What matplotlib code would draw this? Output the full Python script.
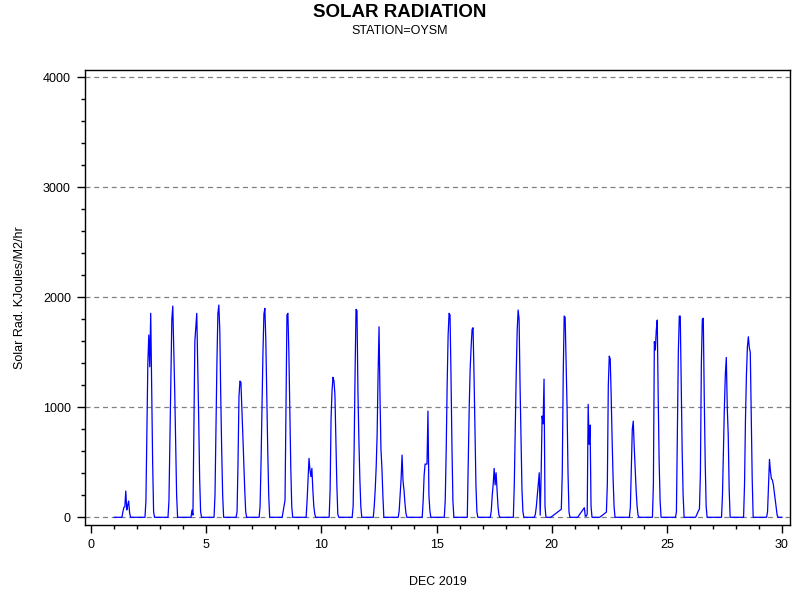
import matplotlib.pyplot as plt
from matplotlib.ticker import MultipleLocator

plt.rcParams['font.family'] = ['Liberation Sans', 'DejaVu Sans']

# hourly solar radiation, hours 0..23 of each day in Dec 2019 (None = missing)
dec01 = [0]*8 + [0, 50, 90, 95, 239, 66, 110, 148, 40, 0] + [0]*6
dec02 = [0]*8 + [0, 150, 800, 1400, 1657, 1369, 1855, 1200, 500, 50] + [0]*6
dec03 = [0]*8 + [0, 150, 700, 1300, 1800, 1921, 1550, 1150, 650, 200] + [0]*6
dec04 = [0]*8 + [0, 66, 20, 800, 1600, 1730, 1855, 1400, 900, 350] + [50] + [0]*5
dec05 = [0]*8 + [0, 200, 800, 1400, 1850, 1930, 1700, 1100, 600, 200] + [0]*6
dec06 = [0]*8 + [50, 500, 1100, 1239, 1230, 1000, 750, 500, 250, 50] + [0]*6
dec07 = [0]*8 + [100, 500, 1000, 1500, 1850, 1900, 1600, 1100, 600, 200] + [0]*6
dec08 = [0]*8 + [50, 100, 155, 1000, 1840, 1855, 1500, 950, 450, 100] + [0]*6
dec09 = [0]*8 + [0, 150, 350, 536, 430, 370, 445, 250, 100, 30] + [0]*6
dec10 = [0]*8 + [0, 250, 900, 1150, 1273, 1240, 1120, 700, 300, 30] + [0]*6
dec11 = [0]*8 + [0, 100, 600, 1300, 1891, 1880, 1150, 700, 350, 100] + [0]*6
dec12 = [0]*7 + [100] + [250, 450, 750, 1300, 1733, 1100, 620, 450, 200, 0] + [0]*6
dec13 = [0]*8 + [0, 60, 200, 350, 566, 330, 250, 130, 40, 0] + [0]*6
dec14 = [0]*8 + [0, 0, 150, 380, 484, 484, 484, 966, 200, 60] + [0]*6
dec15 = [0]*8 + [0, 150, 600, 1200, 1650, 1855, 1840, 1300, 650, 150] + [0]*6
dec16 = [0]*8 + [0, 500, 1000, 1350, 1550, 1710, 1724, 1300, 800, 300] + [50] + [0]*5
dec17 = [0]*8 + [0, 60, 200, 300, 445, 295, 405, 250, 100, 20] + [0]*6
dec18 = [0]*8 + [0, 300, 800, 1300, 1700, 1885, 1800, 1200, 700, 250] + [50] + [0]*5
dec19 = [0]*7 + [30] + [100, 200, 300, 405, 20, 400, 921, 850, 1257, 100] + [0]*6
dec20 = [None]*10 + [73, 400, 1300, 1830, 1820, 1400, 1000, 400] + [50] + [0]*5
dec21 = [0]*4 + [None]*6 + [87, 10, 10, 30, 1027, 663, 839, 100] + [0]*6
dec22 = [0]*3 + [None]*6 + [47, 300, 1200, 1466, 1440, 1100, 700, 350, 100] + [0]*6
dec23 = [0]*8 + [0, 0, 95, 450, 800, 875, 640, 450, 250, 100] + [20] + [0]*5
dec24 = [0]*8 + [0, 0, 300, 1597, 1521, 1700, 1794, 1100, 500, 150] + [0]*6
dec25 = [0]*8 + [0, 0, 50, 800, 1500, 1830, 1830, 1200, 600, 200] + [0]*6
dec26 = [0]*7 + [20] + [40, 60, 75, 400, 1400, 1800, 1810, 1100, 500, 100] + [0]*6
dec27 = [0]*8 + [0, 0, 200, 600, 1000, 1300, 1454, 1000, 750, 250] + [0]*6
dec28 = [0]*8 + [0, 300, 900, 1300, 1550, 1642, 1540, 1500, 900, 350] + [0]*6
dec29 = [0]*8 + [0, 50, 300, 527, 420, 350, 340, 300, 230, 160] + [90, 20] + [0]*4
dec30 = [0]

daily = [dec01, dec02, dec03, dec04, dec05, dec06, dec07, dec08, dec09, dec10,
         dec11, dec12, dec13, dec14, dec15, dec16, dec17, dec18, dec19, dec20,
         dec21, dec22, dec23, dec24, dec25, dec26, dec27, dec28, dec29, dec30]

t, rad = [], []
for day, vals in enumerate(daily, start=1):
    for hour, v in enumerate(vals):
        if v is not None:
            t.append(day + hour / 24)
            rad.append(v)

fig = plt.figure(figsize=(8, 6), dpi=100)
ax = fig.add_axes([0.106, 0.125, 0.8815, 0.758])

ax.plot(t, rad, color='#0000ff', linewidth=0.9)

ax.set_xlim(-0.28, 30.35)
ax.set_ylim(-70, 4066)
ax.xaxis.set_major_locator(MultipleLocator(5))
ax.xaxis.set_minor_locator(MultipleLocator(1))
ax.yaxis.set_major_locator(MultipleLocator(1000))
ax.yaxis.set_minor_locator(MultipleLocator(200))
ax.tick_params(which='major', direction='out', length=6, width=1, labelsize=9, pad=4)
ax.tick_params(which='minor', direction='out', length=3, width=1)

ax.set_axisbelow(True)
ax.grid(axis='y', which='major', linestyle=(0, (4, 3)), color='#808080', linewidth=0.9)

for s in ax.spines.values():
    s.set_linewidth(1)

ax.set_xlabel('DEC 2019', fontsize=9, labelpad=18)
ax.set_ylabel('Solar Rad. KJoules/M2/hr', fontsize=9, labelpad=12)

fig.text(0.5, 0.979, 'SOLAR RADIATION', ha='center', va='center', fontsize=13.5, fontweight='bold')
fig.text(0.5, 0.948, 'STATION=OYSM', ha='center', va='center', fontsize=9)

fig.savefig('out.png', dpi=100)
